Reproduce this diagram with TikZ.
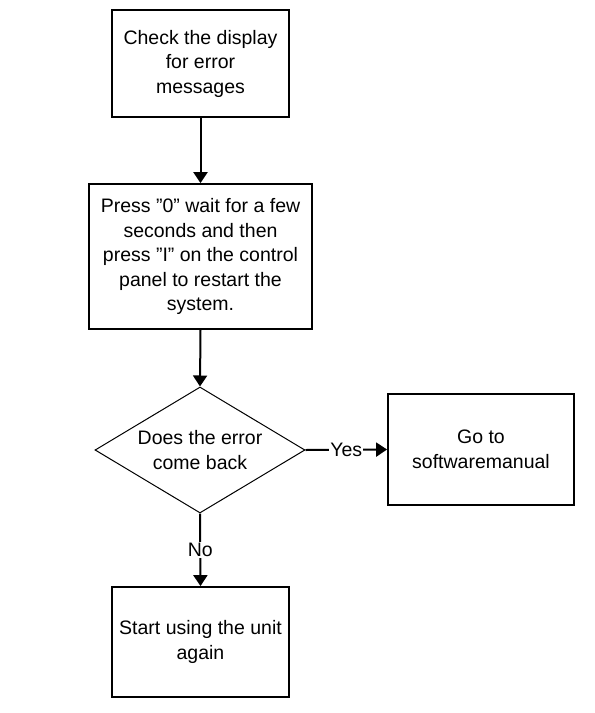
\documentclass[tikz,border=0pt]{standalone}
\usepackage{fontspec}
\setmainfont{Liberation Sans}
\usetikzlibrary{shapes.geometric,arrows.meta}
\begin{document}
\begin{tikzpicture}[x=1pt,y=-1pt,
  box/.style={draw=black,line width=1.8pt,rectangle,minimum width=#1,align=center,inner sep=0pt,
    font=\fontsize{19.5}{24.5}\selectfont},
  decision/.style={draw=black,line width=1pt,diamond,aspect=1.667,minimum width=210pt,minimum height=126pt,
    inner sep=0pt,align=center,font=\fontsize{19.5}{24.5}\selectfont},
  conn/.style={draw=black,line width=2pt,-{Triangle[width=14pt,length=11pt]}},
  lbl/.style={fill=white,inner sep=1pt,font=\fontsize{19.5}{24.5}\selectfont}]
\useasboundingbox (0,0) rectangle (595,713);
\node[box=177pt,minimum height=107pt] (b1) at (200.5,63.5) {Check the display\\for error\\messages};
\node[box=223pt,minimum height=145pt] (b2) at (200.5,256.5) {Press \symbol{34}0\symbol{34} wait for a few\\seconds and then\\press \symbol{34}I\symbol{34} on the control\\panel to restart the\\system.};
\node[decision] (d) at (200,450) {Does the error\\come back};
\node[box=186pt,minimum height=111pt] (b3) at (481,449.5) {Go to\\softwaremanual};
\node[box=177pt,minimum height=110pt] (b4) at (200.5,642) {Start using the unit\\again};
\draw[conn] (b1.south) -- (b2.north);
\draw[conn] (b2.south) -- (d.north);
\draw[conn] (d.east) -- node[lbl] (yes) {Yes} (b3.west);
\draw[conn] (d.south) -- node[lbl] (no) {No} (b4.north);
\end{tikzpicture}
\end{document}
